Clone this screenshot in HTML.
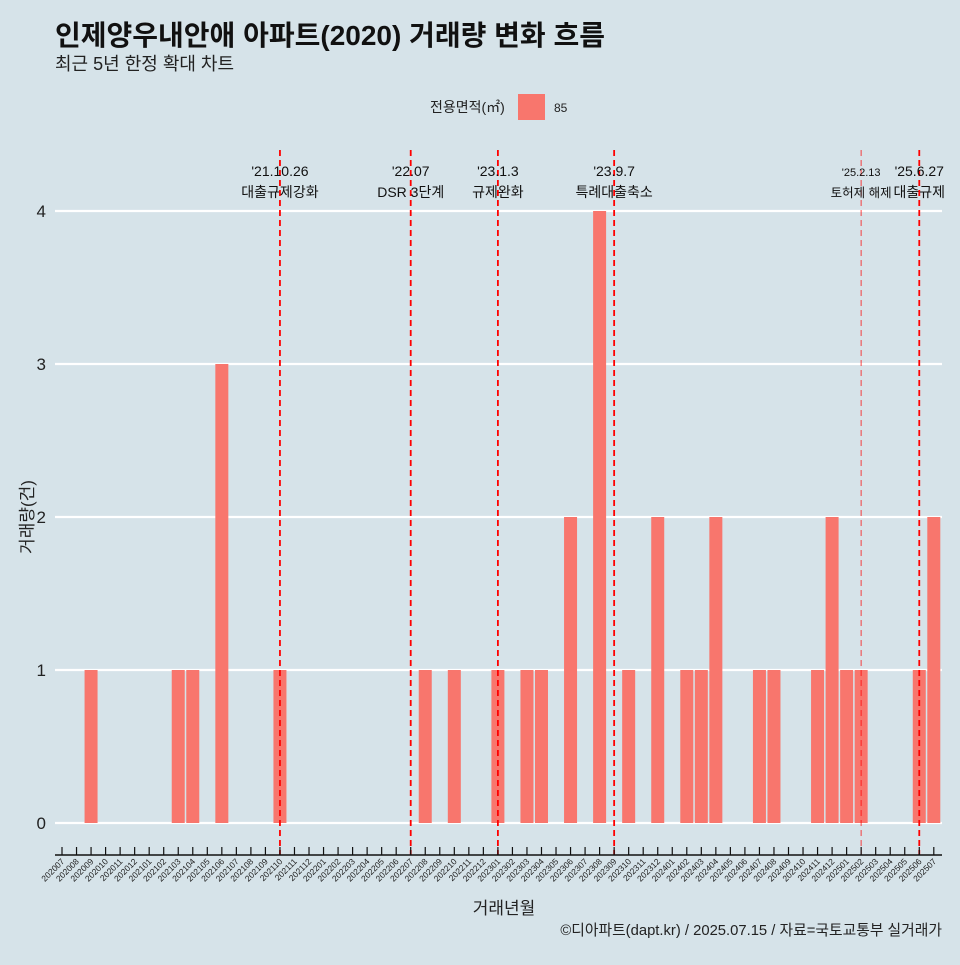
<!DOCTYPE html>
<html><head><meta charset="utf-8"><style>
body{margin:0;background:#d6e3e9;}
svg text{font-family:"Liberation Sans","Noto Sans CJK KR",sans-serif;}
</style></head><body>
<svg width="960" height="960" xmlns="http://www.w3.org/2000/svg">
<rect width="960" height="960" fill="#d6e3e9"/>
<text x="55" y="45" font-size="28" font-weight="bold" fill="#111">인제양우내안애 아파트(2020) 거래량 변화 흐름</text>
<text x="55" y="70" font-size="18" fill="#222">최근 5년 한정 확대 차트</text>
<g>
<text x="430" y="112" font-size="14" fill="#222">전용면적(㎡)</text>
<rect x="518" y="94" width="27" height="26" fill="#f8766d"/>
<text x="554" y="112" font-size="12" fill="#222">85</text>
</g>
<g id="grid"></g><g id="bars"></g><g id="events"></g><g id="xaxis"></g>
<text x="504" y="914" font-size="17" text-anchor="middle" fill="#222">거래년월</text>
<text transform="translate(33,517) rotate(-90)" font-size="17" text-anchor="middle" fill="#222">거래량(건)</text>
<text x="942" y="935" font-size="14.8" text-anchor="end" fill="#222">©디아파트(dapt.kr) / 2025.07.15 / 자료=국토교통부 실거래가</text>
</svg>
<script>
const months=[];for(let y=2020;y<=2025;y++)for(let m=1;m<=12;m++){const k=y*100+m;if(k>=202007&&k<=202507)months.push(String(k));}
const counts={"202009":1,"202103":1,"202104":1,"202106":3,"202110":1,"202208":1,"202210":1,"202301":1,"202303":1,"202304":1,"202306":2,"202308":4,"202310":1,"202312":2,"202402":1,"202403":1,"202404":2,"202407":1,"202408":1,"202411":1,"202412":2,"202501":1,"202502":1,"202506":1,"202507":2};
const yTicks=[0,1,2,3,4];
const eventMonths=["202110","202207","202301","202309","202502","202506"];
const eventDates=["'21.10.26","'22.07","'23.1.3","'23.9.7","'25.2.13","'25.6.27"];
const eventLabels=["대출규제강화","DSR 3단계","규제완화","특례대출축소","토허제 해제","대출규제"];
const NS="http://www.w3.org/2000/svg";
const step=14.53,x0=62;
const X=i=>x0+i*step, Y=v=>823-v*153;
function mk(t,a,p){const e=document.createElementNS(NS,t);for(const k in a)e.setAttribute(k,a[k]);p.appendChild(e);return e;}
const grid=document.getElementById('grid');
yTicks.forEach(v=>{
 const l=mk('line',{x1:55,x2:942,y1:Y(v),y2:Y(v),stroke:'#fff','stroke-width':2.2},grid);
 
 
 const t=mk('text',{x:46,y:Y(v)+6,'font-size':17,'text-anchor':'end',fill:'#222'},grid);
 
 
 t.textContent=v;
});
const bars=document.getElementById('bars');
months.forEach((m,i)=>{const v=counts[m]||0;if(!v)return;
 const r=mk('rect',{x:X(i)-6.5,y:Y(v),width:13,height:Y(0)-Y(v),fill:'#f8766d'},bars);
 
 
});
const ev=document.getElementById('events');
eventMonths.forEach((m,k)=>{const i=months.indexOf(m);const x=X(i);const thin=m==="202502";
 const l=mk('line',{x1:x,x2:x,y1:150,y2:855,stroke:'#ff0000','stroke-width':thin?1.2:1.8,'stroke-dasharray':'6 4',opacity:thin?0.6:1},ev);
 
 
 const t1=mk('text',{x:x,y:176,'font-size':thin?11:14,'text-anchor':'middle',fill:'#111'},ev);
 
 
 t1.textContent=eventDates[k];
 const t2=mk('text',{x:x,y:197,'font-size':thin?12.5:14,'text-anchor':'middle',fill:'#111'},ev);
 
 
 t2.textContent=eventLabels[k];
});
const xa=document.getElementById('xaxis');
const al=mk('line',{x1:55,x2:942,y1:855,y2:855,stroke:'#111','stroke-width':1.5},xa);


months.forEach((m,i)=>{const x=X(i);
 const tk=mk('line',{x1:x,x2:x,y1:847,y2:855,stroke:'#111','stroke-width':1.2},xa);
 
 
 const t=mk('text',{transform:`translate(${x+3},${862}) rotate(-45)`,'font-size':8.5,'text-anchor':'end',fill:'#222'},xa);
 
 
 t.textContent=m;
});
</script>
</body></html>
